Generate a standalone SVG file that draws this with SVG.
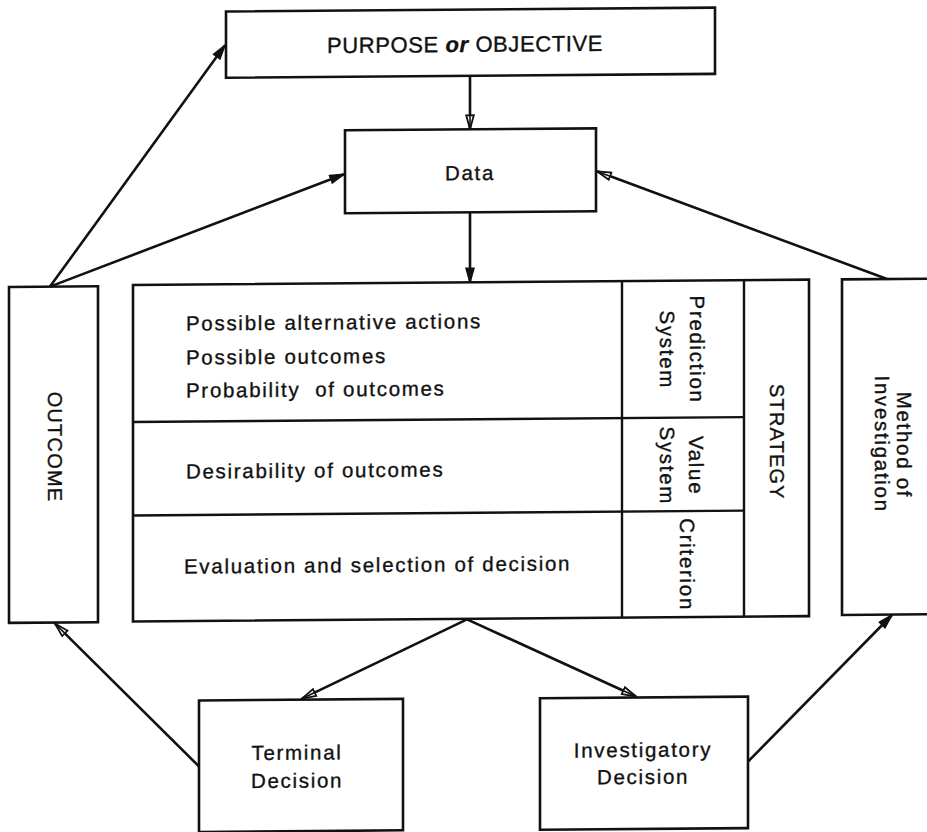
<svg xmlns="http://www.w3.org/2000/svg" width="927" height="832" viewBox="0 0 927 832">
  <defs>
    <style>
      .box { fill: none; stroke: #111; stroke-width: 2.6; }
      .div { fill: none; stroke: #111; stroke-width: 2.4; }
      .link { fill: none; stroke: #111; stroke-width: 2.6; }
      .solid { marker-end: url(#headSolid); }
      .open { marker-end: url(#headOpen); }
      text { font-family: "Liberation Sans", Arial, Helvetica, sans-serif; fill: #111; stroke: #111; stroke-width: 0.35px; }
      .lbl { font-size: 20.5px; letter-spacing: 1.7px; }
      .mid { text-anchor: middle; }
      .title { font-size: 22px; letter-spacing: 0.6px; }
      .caps { font-size: 20px; letter-spacing: 1.2px; }
    </style>
    <marker id="headSolid" markerUnits="userSpaceOnUse" viewBox="0 0 16 10" refX="15" refY="5" markerWidth="16" markerHeight="10" orient="auto">
      <path d="M1,1 L15,5 L1,9 z" fill="#111" stroke="#111" stroke-width="1.5"/>
    </marker>
    <marker id="headOpen" markerUnits="userSpaceOnUse" viewBox="0 0 16 10" refX="15" refY="5" markerWidth="16" markerHeight="10" orient="auto">
      <path d="M1,1.2 L15,5 L1,8.8 z" fill="#fff" stroke="#111" stroke-width="1.8"/>
      <path d="M1,5 L14,5" stroke="#111" stroke-width="1.6"/>
    </marker>
  </defs>

  <rect width="927" height="832" fill="#fff"/>

  <!-- slight shear of the printed page -->
  <g transform="skewY(-0.45)">

    <g id="purpose">
      <rect class="box" x="226" y="13.3" width="489" height="66.2"/>
      <text class="title mid" x="465" y="55.6">PURPOSE <tspan font-style="italic" font-weight="bold">or</tspan> OBJECTIVE</text>
    </g>

    <g id="data">
      <rect class="box" x="345" y="133" width="251" height="83"/>
      <text class="lbl mid" x="470" y="183.7" font-size="21">Data</text>
    </g>

    <g id="analysis">
      <rect class="box" x="133" y="286" width="676" height="336.5"/>
      <line class="div" x1="622" y1="286" x2="622" y2="622.5"/>
      <line class="div" x1="744" y1="286" x2="744" y2="622.5"/>
      <line class="div" x1="133" y1="423" x2="744" y2="423"/>
      <line class="div" x1="133" y1="516.5" x2="744" y2="516.5"/>
      <text class="lbl" x="186" y="332">Possible alternative actions</text>
      <text class="lbl" x="186" y="366">Possible outcomes</text>
      <text class="lbl" x="186" y="399" xml:space="preserve">Probability  of outcomes</text>
      <text class="lbl" x="186" y="480">Desirability of outcomes</text>
      <text class="lbl" x="184" y="575">Evaluation and selection of decision</text>
      <text class="lbl mid" transform="translate(690,355) rotate(90)">Prediction</text>
      <text class="lbl mid" transform="translate(660,355) rotate(90)">System</text>
      <text class="lbl mid" transform="translate(689,471) rotate(90)">Value</text>
      <text class="lbl mid" transform="translate(660,471) rotate(90)">System</text>
      <text class="lbl mid" transform="translate(680,570) rotate(90)">Criterion</text>
      <text class="caps mid" transform="translate(770,448) rotate(90)">STRATEGY</text>
    </g>

    <g id="outcome">
      <rect class="box" x="9" y="287" width="89" height="336"/>
      <text class="caps mid" transform="translate(48,447.4) rotate(90)">OUTCOME</text>
    </g>

    <g id="method">
      <rect class="box" x="842" y="286" width="110" height="335.6"/>
      <text class="lbl mid" transform="translate(897,452) rotate(90)">Method of</text>
      <text class="lbl mid" transform="translate(875,451) rotate(90)">Investigation</text>
    </g>

    <g id="terminal">
      <rect class="box" x="199" y="702" width="204" height="131.5"/>
      <text class="lbl mid" x="297" y="762">Terminal</text>
      <text class="lbl mid" x="297" y="790">Decision</text>
    </g>

    <g id="investigatory">
      <rect class="box" x="540" y="702.5" width="208" height="131.5"/>
      <text class="lbl mid" x="643" y="762">Investigatory</text>
      <text class="lbl mid" x="643" y="789">Decision</text>
    </g>

    <g id="connectors">
      <line class="link open" x1="470" y1="79.5" x2="470" y2="133"/>
      <line class="link solid" x1="470" y1="216" x2="470" y2="286"/>
      <line class="link solid" x1="50" y1="287" x2="225" y2="47"/>
      <line class="link solid" x1="50" y1="287" x2="344" y2="177"/>
      <line class="link open" x1="887" y1="286" x2="597" y2="176"/>
      <line class="link open" x1="467" y1="623" x2="302" y2="701"/>
      <line class="link open" x1="467" y1="623" x2="636" y2="701.5"/>
      <line class="link open" x1="199" y1="768" x2="55" y2="624"/>
      <line class="link solid" x1="748" y1="767.5" x2="892" y2="622"/>
    </g>
  </g>
</svg>
